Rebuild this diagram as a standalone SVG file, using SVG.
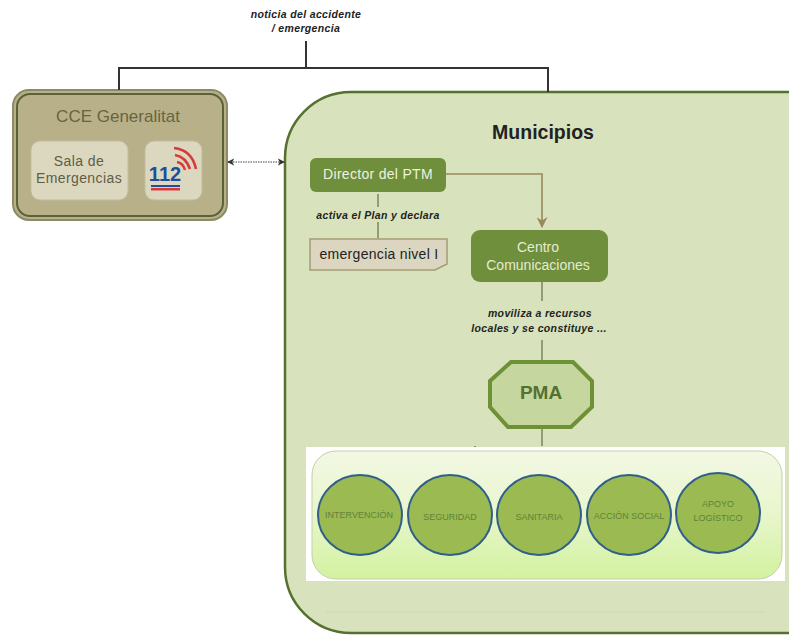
<svg xmlns="http://www.w3.org/2000/svg" width="789" height="635" viewBox="0 0 789 635">
<defs>
<linearGradient id="pan" x1="0" y1="0" x2="0" y2="1"><stop offset="0" stop-color="#f2f8e4"/><stop offset="0.45" stop-color="#eaf6cf"/><stop offset="1" stop-color="#d2f2a0"/></linearGradient>
<marker id="tan" viewBox="0 0 10 10" refX="9" refY="5" markerWidth="11" markerHeight="11" markerUnits="userSpaceOnUse" orient="auto"><path d="M0 0L10 5L0 10L3 5Z" fill="#98895a"/></marker>
<marker id="dk" viewBox="0 0 8 8" refX="7" refY="4" markerWidth="7" markerHeight="8" markerUnits="userSpaceOnUse" orient="auto-start-reverse"><path d="M0 0L8 4L0 8L2 4Z" fill="#333"/></marker>
</defs>
<style>
text{font-family:"Liberation Sans",sans-serif;text-anchor:middle}
.n{font-style:italic;font-size:10.5px;fill:#222;font-weight:bold;letter-spacing:.35px}
.c{font-size:9px;fill:#5f8338}
.w{font-size:14px;fill:#e4ebd0}
.s{font-size:14px;fill:#5f5d45;letter-spacing:.4px}
.g{fill:#9bba52;stroke:#2f5f8a;stroke-width:2}
.b{fill:none;stroke:#333;stroke-width:2}
.o{fill:none;stroke:#6b7a4a;stroke-width:1.3}
</style>
<rect width="789" height="635" fill="#fff"/>
<g id="municipios">
<rect x="285" y="92" width="600" height="541" rx="66" fill="#d8e2bc" stroke="#55702f" stroke-width="2.5"/>
<path d="M326 612H764" stroke="#cdd8b0" fill="none"/>
<text x="543" y="139" font-size="19.5" font-weight="bold" fill="#222">Municipios</text>
</g>
<g id="cce">
<rect x="13" y="90" width="214" height="130" rx="16" fill="#b8b088" stroke="#8d8a68" stroke-width="2"/>
<rect x="17" y="94" width="206" height="122" rx="13" fill="#b8b088" stroke="#5d6138" stroke-width="2"/>
<text x="118" y="122" font-size="17" fill="#67653f">CCE Generalitat</text>
</g>
<g id="sala">
<rect x="31" y="141" width="97" height="59" rx="9" fill="#dcd8c0" stroke="#c2bd9d"/>
<text class="s" x="79" y="166">Sala de</text>
<text class="s" x="79" y="183">Emergencias</text>
</g>
<g id="n112">
<rect x="145" y="141" width="57" height="59" rx="9" fill="#dcd8c0" stroke="#c2bd9d"/>
<path d="M174 148Q192 150 196 169M175 155Q186 157 190 169M177 162Q183 163 185 170" fill="none" stroke="#d83a3a" stroke-width="2.6"/>
<text x="165" y="181" font-size="20" font-weight="bold" fill="#1c4fa0">112</text>
<rect x="151" y="185" width="29" height="2" fill="#1c4fa0"/><rect x="151" y="188" width="29" height="2.5" fill="#d83a3a"/>
</g>
<g id="connectors">
<path class="b" d="M119 90V68H548V92"/>
<path class="b" d="M306 41V68"/>
<path d="M228 162H284" fill="none" stroke="#444" stroke-width="1.2" stroke-dasharray="1.5 1" marker-start="url(#dk)" marker-end="url(#dk)"/>
<path d="M446 174H542V227" fill="none" stroke="#98895a" stroke-width="1.6" marker-end="url(#tan)"/>
<path class="o" d="M378 194V207M378 222V238M542 282V301M542 340V361M542 428V446"/>
<path d="M475 446V451" stroke="#444"/>
</g>
<g id="director">
<rect x="310" y="158" width="136" height="34" rx="6" fill="#6f8f3c"/>
<text x="378" y="179" font-size="14" fill="#eef2df" letter-spacing=".3">Director del PTM</text>
</g>
<g id="nivel">
<path d="M310 239H447V264L435 270H310Z" fill="#dcd6c0" stroke="#a49d74" stroke-width="1.5"/>
<text x="379" y="259" font-size="14" fill="#222" letter-spacing=".3">emergencia nivel I</text>
</g>
<g id="centro">
<rect x="471" y="230" width="137" height="52" rx="9" fill="#6f8f3c"/>
<text class="w" x="538" y="252">Centro</text>
<text class="w" x="538" y="270">Comunicaciones</text>
</g>
<g id="pma">
<path d="M511 362H573L592 381V407L571 427H508L490 407V381Z" fill="#c5d69f" stroke="#6f9136" stroke-width="4"/>
<text x="541" y="399" font-size="19" font-weight="bold" fill="#55702f">PMA</text>
</g>
<g id="panel">
<rect x="306" y="447" width="479" height="134" fill="#fff"/>
<rect x="312" y="451" width="470" height="128" rx="24" fill="url(#pan)" stroke="#c4cfa5"/>
</g>
<g id="intervencion"><ellipse class="g" cx="360" cy="515" rx="42" ry="40"/><text class="c" x="359" y="518">INTERVENCIÓN</text></g>
<g id="seguridad"><ellipse class="g" cx="450" cy="515" rx="42" ry="40"/><text class="c" x="450" y="520">SEGURIDAD</text></g>
<g id="sanitaria"><ellipse class="g" cx="539" cy="515" rx="42" ry="40"/><text class="c" x="539" y="520">SANITARIA</text></g>
<g id="accion"><ellipse class="g" cx="629" cy="515" rx="42" ry="40"/><text class="c" x="629" y="519">ACCIÓN SOCIAL</text></g>
<g id="apoyo"><ellipse class="g" cx="718" cy="513" rx="42" ry="40"/><text class="c" x="718" y="507">APOYO</text><text class="c" x="718" y="521">LOGÍSTICO</text></g>
<g id="labels">
<text class="n" x="306" y="18">noticia del accidente</text>
<text class="n" x="306" y="32">/ emergencia</text>
<text class="n" x="378" y="219">activa el Plan y declara</text>
<text class="n" x="540" y="317">moviliza a recursos</text>
<text class="n" x="539" y="332">locales y se constituye ...</text>
</g>
</svg>
